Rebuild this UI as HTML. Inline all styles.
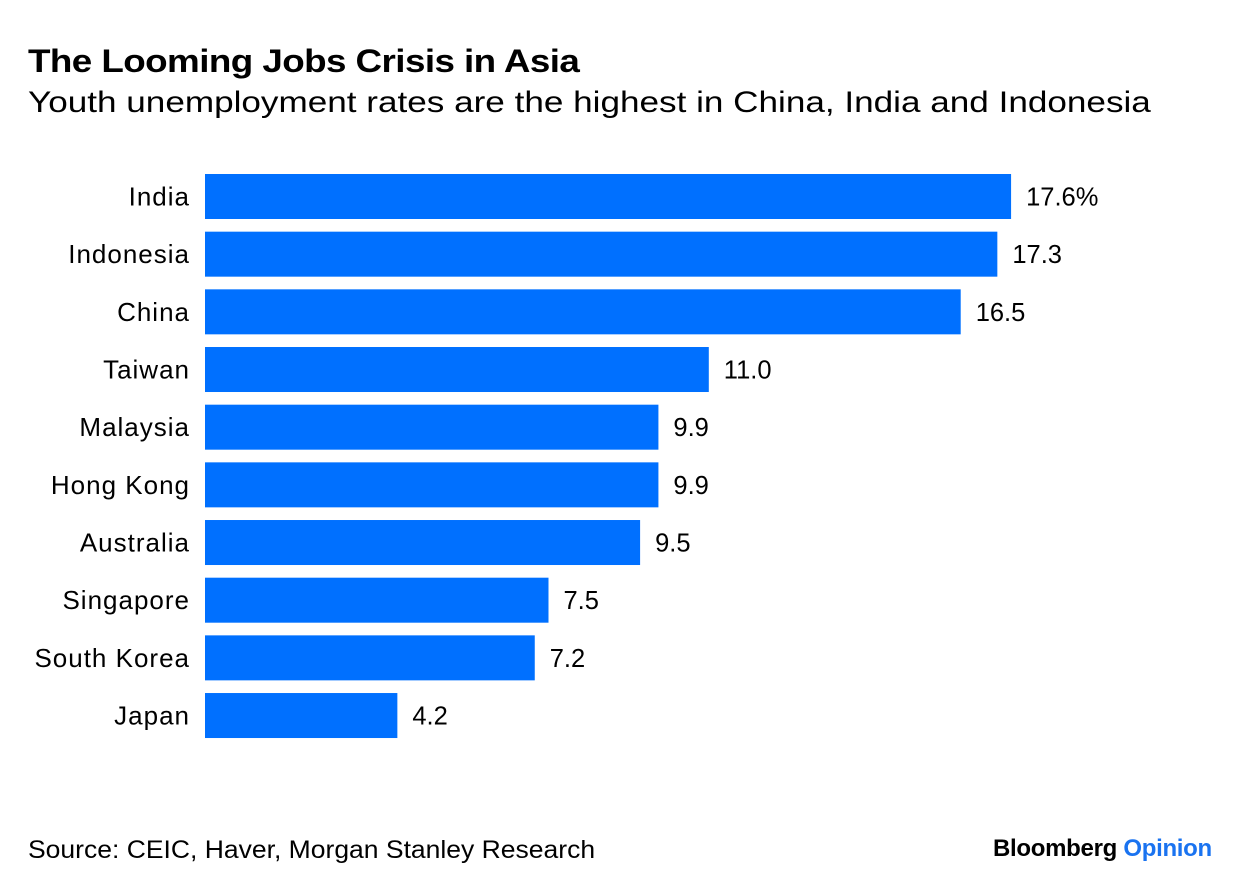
<!DOCTYPE html>
<html><head><meta charset="utf-8"><style>
body{margin:0;background:#fff;width:1240px;height:894px;overflow:hidden;font-family:"Liberation Sans",sans-serif;}
.t{position:absolute;white-space:nowrap;color:#000;transform-origin:left top}
</style></head><body>
<div class="t" style="left:28px;top:43px;font-size:32px;font-weight:bold;letter-spacing:-0.5px;transform:scaleX(1.15)">The Looming Jobs Crisis in Asia</div>
<div class="t" style="left:28px;top:86px;font-size:29.5px;transform:scaleX(1.19)">Youth unemployment rates are the highest in China, India and Indonesia</div>
<svg id="chart" width="1240" height="894" style="position:absolute;left:0;top:0"></svg>
<div class="t" style="left:28px;top:836px;font-size:25px;transform:scaleX(1.06)">Source: CEIC, Haver, Morgan Stanley Research</div>
<div class="t" style="left:993px;top:835px;font-size:24px;font-weight:bold;letter-spacing:-0.3px">Bloomberg <span style="color:#1a73f0">Opinion</span></div>
<script>
const categories=["India","Indonesia","China","Taiwan","Malaysia","Hong Kong","Australia","Singapore","South Korea","Japan"];
const values=[17.6,17.3,16.5,11.0,9.9,9.9,9.5,7.5,7.2,4.2];
const valueLabels=["17.6%","17.3","16.5","11.0","9.9","9.9","9.5","7.5","7.2","4.2"];
const svg=document.getElementById('chart');
const NS='http://www.w3.org/2000/svg';
const x0=205,pxPerUnit=45.8,top0=174,pitch=57.67,bh=45;
const xs=v=>x0+v*pxPerUnit;
const ys=i=>top0+i*pitch;
categories.forEach((c,i)=>{
  const r=document.createElementNS(NS,'rect');
  r.setAttribute('x',x0);r.setAttribute('y',ys(i));
  r.setAttribute('width',xs(values[i])-x0);r.setAttribute('height',bh);
  r.setAttribute('fill','#0070ff');
  
  
  svg.appendChild(r);
  const l=document.createElementNS(NS,'text');
  l.setAttribute('x',190);l.setAttribute('y',ys(i)+bh/2+9);
  l.setAttribute('text-anchor','end');l.setAttribute('font-size','26');
  l.setAttribute('letter-spacing','1');
  l.setAttribute('font-family','Liberation Sans, sans-serif');
  l.textContent=c;
  
  
  svg.appendChild(l);
  const v=document.createElementNS(NS,'text');
  v.setAttribute('x',xs(values[i])+15);v.setAttribute('y',ys(i)+bh/2+9);
  v.setAttribute('font-size','25.5');
  v.setAttribute('font-family','Liberation Sans, sans-serif');
  v.textContent=valueLabels[i];
  
  
  svg.appendChild(v);
});
</script>
</body></html>
